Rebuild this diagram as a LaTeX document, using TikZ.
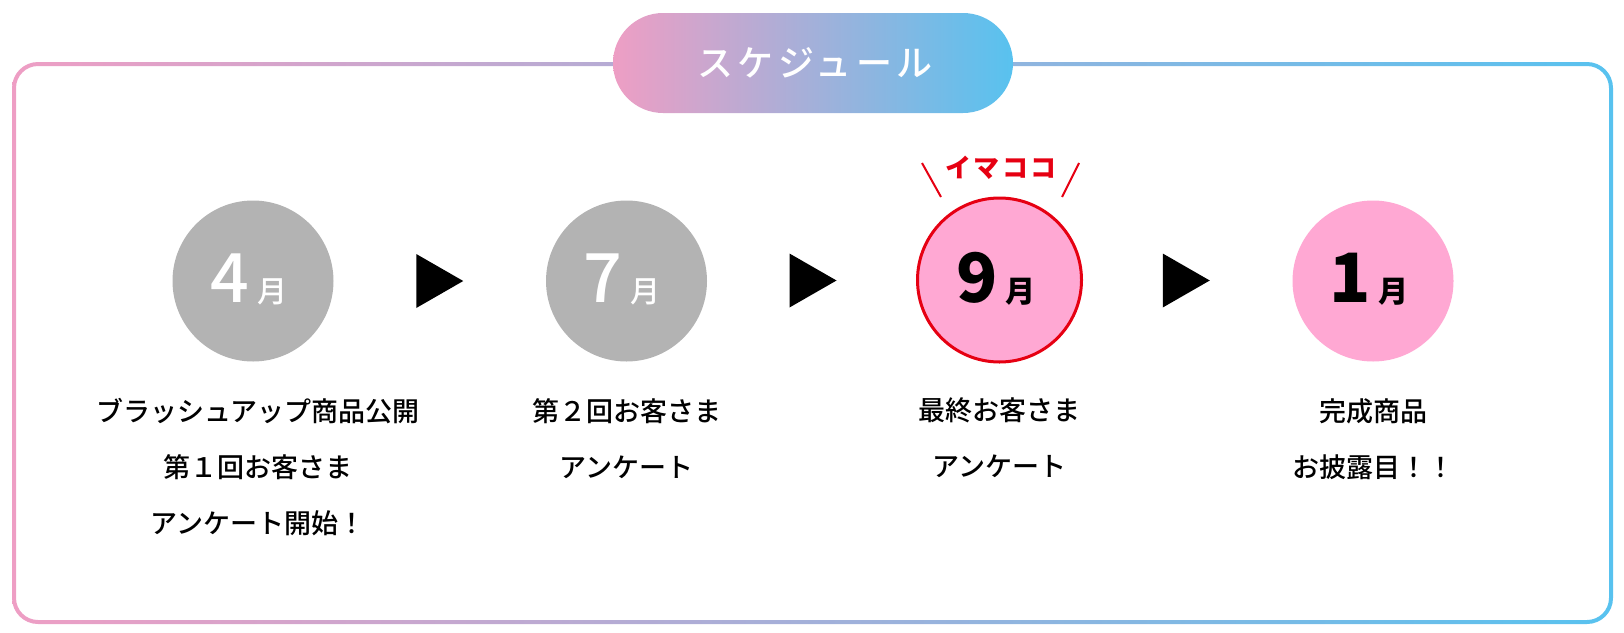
\documentclass[tikz,border=0pt]{standalone}
\usepackage{fontspec}
\newfontfamily\jpfont{Noto Sans CJK JP}
\IfFontExistsTF{Noto Sans CJK JP Medium}{\newfontfamily\jpmedium{Noto Sans CJK JP Medium}}{\newfontfamily\jpmedium{Noto Sans CJK JP}[FakeBold=1.2]}
\usetikzlibrary{shapes.geometric,calc}
\definecolor{pinkA}{HTML}{EE9EC4}
\definecolor{blueA}{HTML}{58C2EF}
\definecolor{grayA}{HTML}{B3B3B3}
\definecolor{pinkB}{HTML}{FFA8D3}
\definecolor{redA}{HTML}{E60012}
\newcommand{\monthtext}[2][\jpmedium]{{#1\fontsize{68}{68}\selectfont #2}\hspace{8pt}{#1\fontsize{30}{30}\selectfont 月}}
\tikzset{
	monthdot/.style={circle,minimum size=161pt,inner sep=0pt},
	pastdot/.style={monthdot,fill=grayA},
	nextdot/.style={monthdot,fill=pinkB},
	nowdot/.style={monthdot,fill=pinkB,draw=redA,line width=3pt,minimum size=164pt},
	stepnote/.style={anchor=north,inner sep=0pt,align=center,font=\jpmedium\fontsize{27}{56}\selectfont},
}

\begin{document}
\begin{tikzpicture}[x=1pt,y=-1pt,font=\jpfont]
	\useasboundingbox (0,0) rectangle (1624,632);
	% frame and title
	\shade[even odd rule,left color=pinkA,right color=blueA] [rounded corners=26pt] (12,62) rectangle (1613,624) [rounded corners=22pt] (16,66) rectangle (1609,620);
	\shade[left color=pinkA,right color=blueA,rounded corners=50pt] (613,13) rectangle (1013,113);
	\node[white,font=\jpmedium\fontsize{36}{36}\selectfont\addfontfeatures{LetterSpace=12}] (title) at (815,63) {スケジュール};
	% months
	\node[pastdot] (apr) at (253,281) {};
	\node[pastdot] (jul) at (626.5,281) {};
	\node[nowdot] (sep) at (999.5,280) {};
	\node[nextdot] (jan) at (1373,281) {};
	\node[white,anchor=base] at (249,302) {\monthtext{4}};
	\node[white,anchor=base] at (622,302) {\monthtext{7}};
	\node[black,anchor=base] at (996,302) {\monthtext[\jpfont\bfseries]{9}};
	\node[black,anchor=base] at (1369,302) {\monthtext[\jpfont\bfseries]{1}};
	\fill ($(apr)!0.5!(jul)$) +(-23.5,-27) -- +(23.5,0) -- +(-23.5,27) -- cycle;
	\fill ($(jul)!0.5!(sep)$) +(-23.5,-27) -- +(23.5,0) -- +(-23.5,27) -- cycle;
	\fill ($(sep)!0.5!(jan)$) +(-23.5,-27) -- +(23.5,0) -- +(-23.5,27) -- cycle;
	% now marker
	\node[redA,font=\jpfont\bfseries\fontsize{26}{26}\selectfont\addfontfeatures{LetterSpace=10}] (now) at (1001,168) {イマココ};
	\draw[redA,line width=2pt] (922,163) -- (941,197);
	\draw[redA,line width=2pt] (1079,163) -- (1062,197);
	% notes
	\node[stepnote] (n1) at (258,398) {ブラッシュアップ商品公開\\第１回お客さま\\アンケート開始！};
	\node[stepnote] (n2) at (626.5,398) {第２回お客さま\\アンケート};
	\node[stepnote] (n3) at (999.5,398) {最終お客さま\\アンケート};
	\node[stepnote] (n4) at (1373,398) {完成商品\\お披露目！！};
\end{tikzpicture}
\end{document}
